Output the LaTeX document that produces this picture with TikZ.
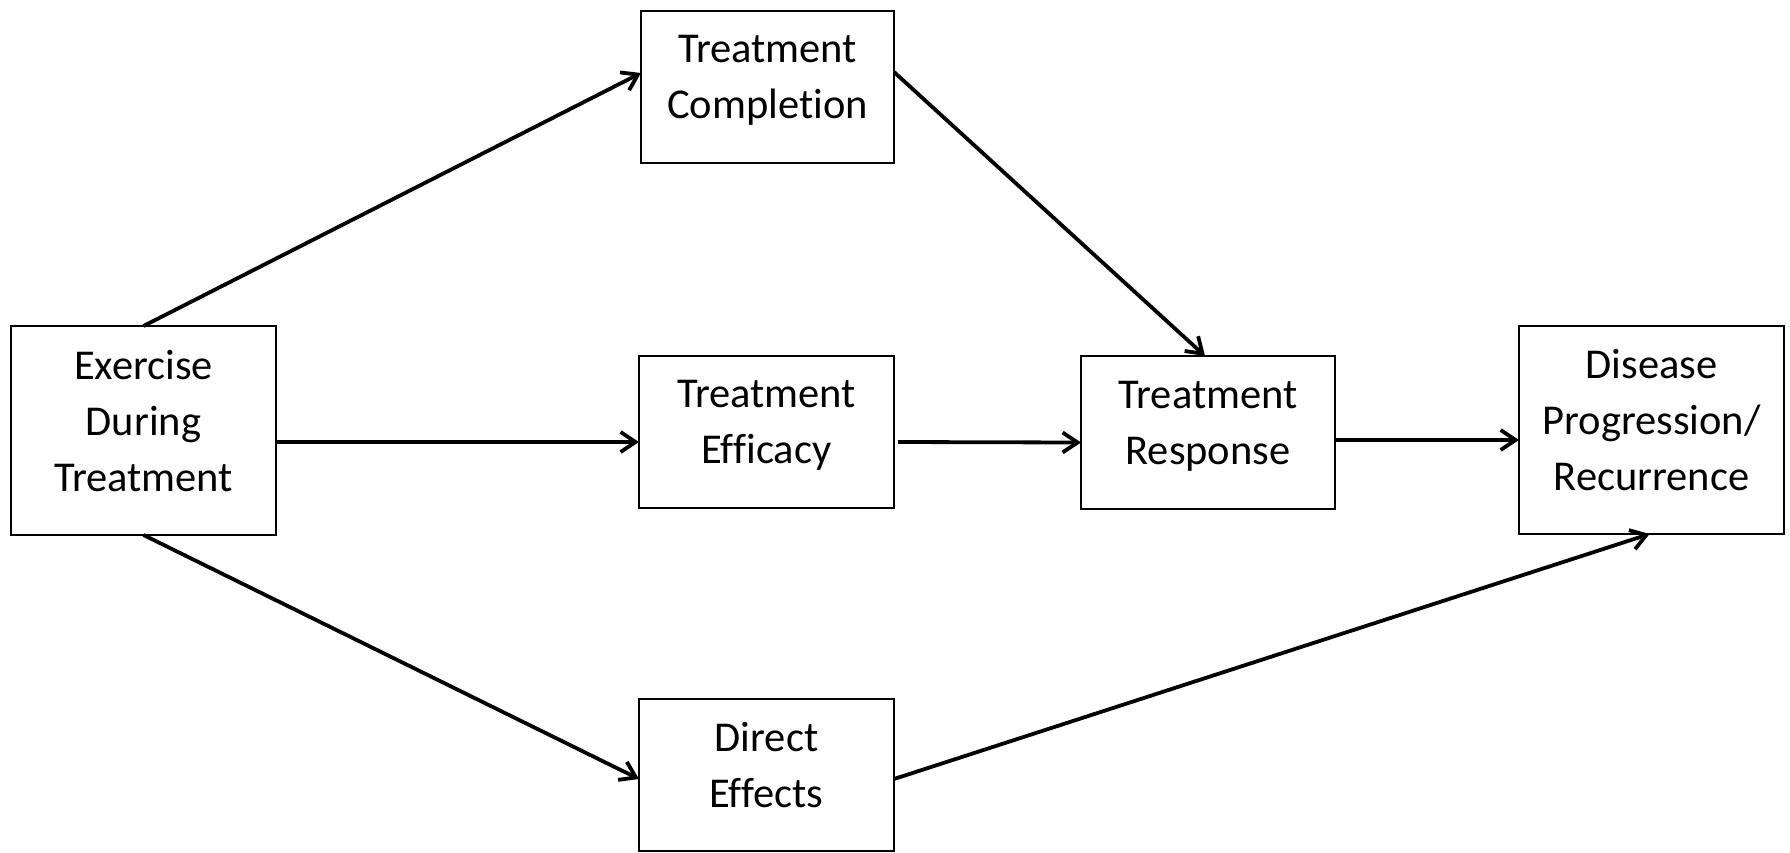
\documentclass[tikz,border=0pt]{standalone}
\usepackage{fontspec}
\setmainfont{Carlito}[Ligatures=NoCommon]
\usetikzlibrary{arrows.meta}
\newcommand{\topstrut}{\rule{0pt}{34pt}}
\newcommand{\botstrut}{\rule[-20pt]{0pt}{1pt}}
\begin{document}
\begin{tikzpicture}[x=1pt,y=1pt,
  box/.style={draw=black,line width=2pt,rectangle,align=center,inner sep=0pt,outer sep=0pt,
    font=\fontsize{42.5pt}{56pt}\selectfont,
    execute at begin node={\topstrut}, execute at end node={\botstrut}},
  conn/.style={line width=3.8pt,-{Straight Barb[length=15pt,width=20pt,line width=3.8pt]}}]
\useasboundingbox (0,0) rectangle (1790,-852);
\node[box,minimum width=265pt,minimum height=209pt] (ex) at (143.5,-430.5) {Exercise\\During\\Treatment};
\node[box,minimum width=253pt,minimum height=152pt] (comp) at (767.5,-87) {Treatment\\Completion};
\node[box,minimum width=255pt,minimum height=152pt] (eff) at (766.5,-432) {Treatment\\Efficacy};
\node[box,minimum width=254pt,minimum height=153pt] (resp) at (1208,-432.5) {Treatment\\Response};
\node[box,minimum width=265pt,minimum height=208pt] (dis) at (1651.5,-430) {Disease\\Progression/\\Recurrence};
\node[box,minimum width=255pt,minimum height=152pt] (dir) at (766.5,-775) {Direct\\Effects};
\draw[conn] (ex.north) -- ([yshift=14pt]comp.west);
\draw[conn] ([yshift=15pt]comp.east) -- ([xshift=-3pt]resp.north);
\draw[conn] ([yshift=-11.5pt]ex.east) -- ([yshift=-10pt]eff.west);
\draw[conn] ([xshift=4pt,yshift=-10pt]eff.east) -- ([yshift=-10pt]resp.west);
\draw[conn] ([yshift=-7.5pt]resp.east) -- ([yshift=-10pt]dis.west);
\draw[conn] (ex.south) -- ([yshift=-4pt]dir.west);
\draw[conn] ([yshift=-4pt]dir.east) -- ([xshift=-2pt]dis.south);
\end{tikzpicture}
\end{document}
